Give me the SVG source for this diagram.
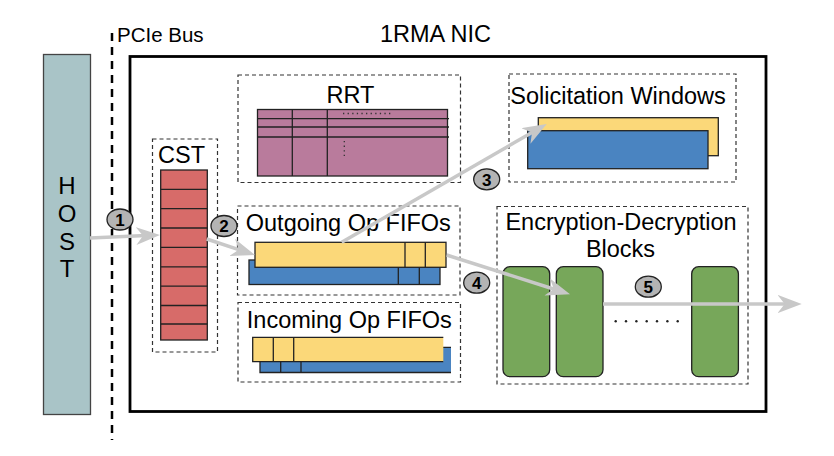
<svg xmlns="http://www.w3.org/2000/svg" width="834" height="456" viewBox="0 0 834 456">
<style>
text{font-family:"Liberation Sans",Arial,Helvetica,sans-serif;fill:#000}
.lbl{font-size:23.5px}
.dash{fill:none;stroke:#333;stroke-width:1.2;stroke-dasharray:4 3}
.cell{stroke:#222;stroke-width:1.3}
.ln{stroke:#222;stroke-width:1.3;fill:none}
.yel{fill:#fbd879}
.blu{fill:#4a84c1}
.grn{fill:#77a75a;stroke:#222;stroke-width:1.3}
.arr{stroke:#c8c8c8;stroke-width:3.5;fill:none;marker-end:url(#ah)}
.num ellipse{fill:#b4b4b4;stroke:#222;stroke-width:1.3}
.num text{font-size:17px;font-weight:bold;text-anchor:middle}
</style>
<defs>
<marker id="ah" markerUnits="userSpaceOnUse" viewBox="0 0 24 18" refX="10" refY="9" markerWidth="24" markerHeight="18" orient="auto">
<path d="M0,0 L24,9 L0,18 L7,9 Z" fill="#c8c8c8"/>
</marker>
</defs>
<rect width="834" height="456" fill="#fff"/>

<g id="host">
<rect x="43.5" y="54.5" width="47" height="360" fill="#a9c4c7" stroke="#444" stroke-width="1.3"/>
<text x="67" y="193.5" font-size="24" text-anchor="middle">H</text>
<text x="67" y="221.5" font-size="24" text-anchor="middle">O</text>
<text x="67" y="249.5" font-size="24" text-anchor="middle">S</text>
<text x="67" y="276.5" font-size="24" text-anchor="middle">T</text>
</g>

<g id="pcie-bus">
<line x1="112" y1="33" x2="112" y2="440" stroke="#000" stroke-width="2.5" stroke-dasharray="8 6"/>
<text x="117" y="42" font-size="20.5">PCIe Bus</text>
</g>

<g id="nic">
<rect x="130" y="56.5" width="636" height="355" fill="none" stroke="#000" stroke-width="2.8"/>
<text x="380" y="42" class="lbl">1RMA NIC</text>
</g>

<g id="rrt">
<rect class="dash" x="238" y="75" width="222.5" height="107.5"/>
<text x="350.5" y="102.7" class="lbl" text-anchor="middle">RRT</text>
<rect class="cell" x="257.5" y="109.5" width="190" height="66.5" fill="#b97b9c"/>
<path class="ln" d="M257.5,118.7H449M257.5,127H449M257.5,137H449M292.3,109.5V176M327.3,109.5V176"/>
<line x1="343" y1="113.5" x2="393" y2="113.5" stroke="#333" stroke-width="1.3" stroke-dasharray="1.3 3.3"/>
<line x1="344.3" y1="141" x2="344.3" y2="159" stroke="#333" stroke-width="1.3" stroke-dasharray="1.3 3.3"/>
</g>

<g id="solicitation-windows">
<rect class="dash" x="509" y="74" width="227" height="108"/>
<text x="618" y="104" class="lbl" text-anchor="middle">Solicitation Windows</text>
<rect class="yel cell" x="538.3" y="117.7" width="180" height="38"/>
<rect class="blu cell" x="527.7" y="130.7" width="180.3" height="38"/>
</g>

<g id="cst">
<rect class="dash" x="152.5" y="139" width="65" height="213"/>
<text x="158" y="163.3" class="lbl">CST</text>
<rect class="cell" x="160.7" y="170" width="46.6" height="170" fill="#d76b69"/>
<path class="ln" d="M160.7,189.3H207.3M160.7,208.7H207.3M160.7,228H207.3M160.7,247.4H207.3M160.7,266.8H207.3M160.7,286.1H207.3M160.7,305.5H207.3M160.7,324H207.3"/>
</g>

<g id="outgoing-fifos">
<rect class="dash" x="237.5" y="206" width="222.5" height="89"/>
<text x="348.3" y="231" class="lbl" text-anchor="middle">Outgoing Op FIFOs</text>
<rect class="blu cell" x="249" y="260" width="191" height="24.5"/>
<path class="ln" d="M398.3,260V284.5M419.3,260V284.5"/>
<rect class="yel cell" x="255" y="242.3" width="191" height="25"/>
<path class="ln" d="M405,242.3V267.3M425.3,242.3V267.3"/>
</g>

<g id="incoming-fifos">
<rect class="dash" x="238" y="302.5" width="222.5" height="79.5"/>
<text x="349.3" y="327.7" class="lbl" text-anchor="middle">Incoming Op FIFOs</text>
<rect class="blu" x="260" y="347" width="191" height="25.5"/>
<path class="ln" d="M451,347.3H260V372.5H451M280.7,361.7V372.5M301,361.7V372.5"/>
<rect class="yel" x="252.7" y="337.3" width="190.6" height="24.4"/>
<path class="ln" d="M443.3,337.3H252.7V361.7H443.3M273.3,337.3V361.7M293.7,337.3V361.7"/>
</g>

<g id="encryption-decryption-blocks">
<rect class="dash" x="497" y="206.5" width="251" height="177.5"/>
<text x="621" y="230" class="lbl" text-anchor="middle">Encryption-Decryption</text>
<text x="620.5" y="257.3" class="lbl" text-anchor="middle">Blocks</text>
<rect class="grn" x="503" y="266.7" width="46.7" height="110" rx="7"/>
<rect class="grn" x="556.3" y="266.7" width="46.7" height="110" rx="7"/>
<rect class="grn" x="691.7" y="266.7" width="46.7" height="110" rx="7"/>
<g fill="#222">
<circle cx="615.7" cy="321.3" r="1.2"/><circle cx="626" cy="321.3" r="1.2"/><circle cx="636.4" cy="321.3" r="1.2"/><circle cx="646.7" cy="321.3" r="1.2"/><circle cx="657" cy="321.3" r="1.2"/><circle cx="667.4" cy="321.3" r="1.2"/><circle cx="677.7" cy="321.3" r="1.2"/>
</g>
</g>

<g id="connectors">
<path class="arr" d="M90,238 L146,235.6"/>
<path class="arr" d="M206.7,239 L241.7,250.6"/>
<path class="arr" d="M341.7,242.3 L534.6,131"/>
<path class="arr" d="M446.7,255 L556.7,290"/>
<path class="arr" d="M603,304 L787.7,304"/>
</g>

<g id="step-labels" class="num">
<g id="step1"><ellipse cx="120" cy="219.5" rx="13" ry="10.5"/><text x="120" y="225.7">1</text></g>
<g id="step2"><ellipse cx="224" cy="226" rx="13" ry="10.5"/><text x="224" y="232.2">2</text></g>
<g id="step3"><ellipse cx="486.7" cy="179.3" rx="13" ry="10.5"/><text x="486.7" y="185.5">3</text></g>
<g id="step4"><ellipse cx="476.7" cy="282.7" rx="13" ry="10.5"/><text x="476.7" y="288.9">4</text></g>
<g id="step5"><ellipse cx="648.3" cy="286.7" rx="13" ry="10.5"/><text x="648.3" y="292.9">5</text></g>
</g>
</svg>
